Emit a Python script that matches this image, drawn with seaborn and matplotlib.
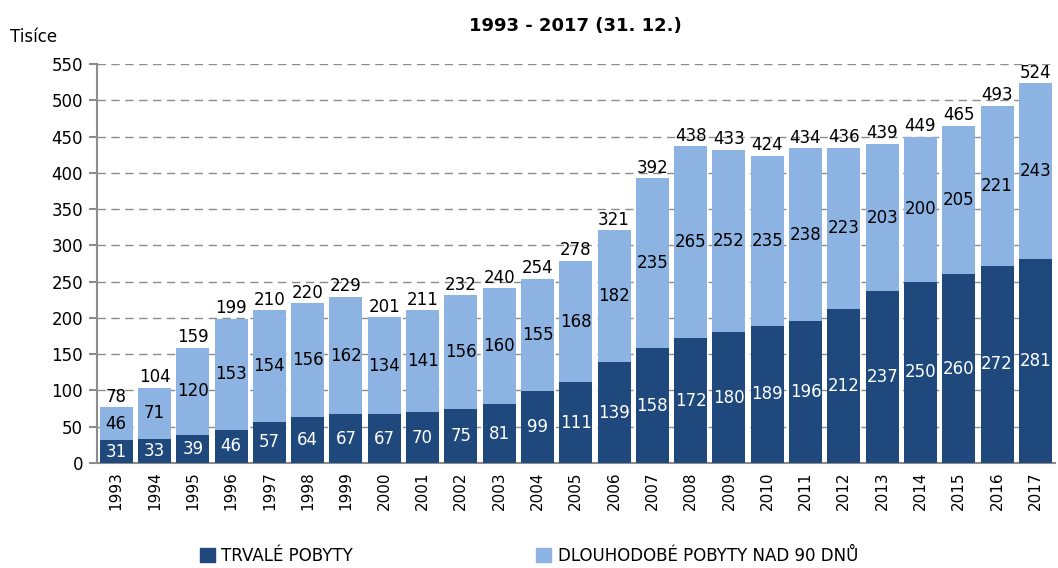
import numpy as np
import pandas as pd
import seaborn as sns
import matplotlib.pyplot as plt
from matplotlib.patches import Patch
from matplotlib.ticker import MultipleLocator, FixedLocator

years = [str(y) for y in range(1993, 2018)]
trvale = [31, 33, 39, 46, 57, 64, 67, 67, 70, 75, 81, 99, 111, 139, 158, 172,
          180, 189, 196, 212, 237, 250, 260, 272, 281]
dlouhodobe = [46, 71, 120, 153, 154, 156, 162, 134, 141, 156, 160, 155, 168,
              182, 235, 265, 252, 235, 238, 223, 203, 200, 205, 221, 243]
celkem = [78, 104, 159, 199, 210, 220, 229, 201, 211, 232, 240, 254, 278, 321,
          392, 438, 433, 424, 434, 436, 439, 449, 465, 493, 524]

dark = '#1f497d'
light = '#8db3e2'

df = pd.DataFrame({'rok': years, 'trvale': trvale, 'dlouhodobe': dlouhodobe,
                   'celkem': celkem})
df['soucet'] = df['trvale'] + df['dlouhodobe']

sns.set_style('white')
plt.rcParams['font.family'] = ['DejaVu Sans']
plt.rcParams['text.color'] = 'black'
plt.rcParams['xtick.labelcolor'] = 'black'
plt.rcParams['ytick.labelcolor'] = 'black'

fig = plt.figure(figsize=(10.58, 5.68), dpi=100)
ax = fig.add_axes([0.0917, 0.185, 0.905, 0.702])

sns.barplot(data=df, x='rok', y='soucet', color=light, width=0.86,
            saturation=1, ax=ax, zorder=2, edgecolor='none')
sns.barplot(data=df, x='rok', y='trvale', color=dark, width=0.86,
            saturation=1, ax=ax, zorder=3, edgecolor='none')

for i, row in df.iterrows():
    ax.text(i, row['trvale'] / 2, str(row['trvale']), ha='center', va='center',
            color='white', fontsize=12, zorder=5)
    ax.text(i, row['trvale'] + row['dlouhodobe'] / 2, str(row['dlouhodobe']),
            ha='center', va='center', color='black', fontsize=12, zorder=5)
    ax.text(i, row['soucet'] + 2, str(row['celkem']), ha='center',
            va='bottom', color='black', fontsize=12, zorder=5)

ax.set_ylim(0, 550)
ax.set_xlim(-0.5, len(years) - 0.5)
ax.yaxis.set_major_locator(MultipleLocator(50))
ax.grid(axis='y', color='#8c8c8c', linestyle=(0, (6, 4)), linewidth=1, zorder=0)
ax.set_axisbelow(True)

ax.set_xlabel('')
ax.set_ylabel('')
ax.tick_params(axis='x', which='major', length=0, labelsize=11, rotation=90, pad=6)
ax.xaxis.set_minor_locator(FixedLocator(np.arange(-0.5, len(years), 1)))
ax.tick_params(axis='x', which='minor', length=6, color='#8c8c8c', width=1.5)
ax.tick_params(axis='y', length=6, color='#8c8c8c', width=1.5, labelsize=12,
               left=True, pad=4)

for s in ['top', 'right']:
    ax.spines[s].set_visible(False)
for s in ['left', 'bottom']:
    ax.spines[s].set_color('#8c8c8c')
    ax.spines[s].set_linewidth(1.5)

ax.set_title('1993 - 2017 (31. 12.)', fontsize=13, fontweight='bold', pad=24,
             color='black')
fig.text(10 / 1058, 1 - 37 / 568, 'Tisíce', fontsize=12, va='center', ha='left',
         color='black')

handles = [Patch(color=dark, label='TRVALÉ POBYTY'),
           Patch(color=light, label='DLOUHODOBÉ POBYTY NAD 90 DNŮ')]
fig.legend(handles=handles, loc='center', bbox_to_anchor=(0.5, 1 - 556 / 568),
           ncol=2, frameon=False, fontsize=12, handlelength=0.9,
           handleheight=0.9, handletextpad=0.4, columnspacing=11)

fig.savefig('out.png', dpi=100)
